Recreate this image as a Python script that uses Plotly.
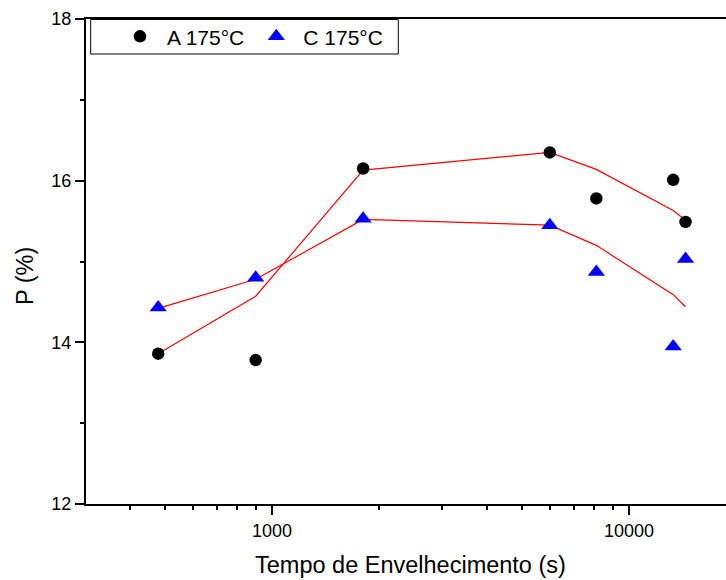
import plotly.graph_objects as go

# ---- data ----
tempo = [480, 900, 1800, 6000, 8100, 13300, 14400]
a_175 = [13.86, 13.78, 16.15, 16.35, 15.78, 16.01, 15.49]
c_175 = [14.43, 14.80, 15.53, 15.45, 14.87, 13.95, 15.03]
a_fit = [13.86, 14.57, 16.13, 16.35, 16.14, 15.63, 15.51]
c_fit = [14.42, 14.78, 15.52, 15.45, 15.20, 14.59, 14.44]

x_tickvals = [1000, 10000]
x_ticktext = ["1000", "10000"]
x_minor = [300, 400, 500, 600, 700, 800, 900, 2000, 3000, 4000, 5000, 6000, 7000, 8000, 9000]
y_tickvals = [12, 14, 16, 18]

FONT = "Arial, Liberation Sans, sans-serif"

# plot-area geometry (px)
L, R, T, B = 86, 726, 19, 504
W, H = R - L, B - T

def px_x(p):
    return (p - L) / W

def px_y(p):
    return (B - p) / H

fig = go.Figure()
fig.add_trace(go.Scatter(x=tempo, y=a_fit, mode="lines", line=dict(color="#ff0000", width=1.2),
                         showlegend=False, hoverinfo="skip"))
fig.add_trace(go.Scatter(x=tempo, y=c_fit, mode="lines", line=dict(color="#ff0000", width=1.2),
                         showlegend=False, hoverinfo="skip"))
fig.add_trace(go.Scatter(x=tempo, y=a_175, mode="markers", name="A 175°C",
                         marker=dict(symbol="circle", size=12.5, color="black")))
fig.add_trace(go.Scatter(x=tempo, y=c_175, mode="markers", name="C 175°C",
                         marker=dict(symbol="triangle-up", size=15, color="#0000ff")))

xr0 = 2.479
xr1 = xr0 + W / 357.0

fig.update_layout(
    width=726, height=580,
    margin=dict(l=L, r=726 - R, t=T, b=580 - B, pad=0),
    paper_bgcolor="white", plot_bgcolor="white",
    font=dict(family=FONT, color="black", size=18),
    showlegend=True,
    legend=dict(orientation="h", x=px_x(113), xanchor="left", y=px_y(36.7), yanchor="middle",
                font=dict(family=FONT, size=21, color="black"), bgcolor="rgba(0,0,0,0)",
                borderwidth=0, itemwidth=44, tracegroupgap=0),
    xaxis=dict(type="log", range=[xr0, xr1], showline=True, linecolor="black", linewidth=2,
               mirror=True, showgrid=False, zeroline=False,
               tickmode="array", tickvals=x_tickvals, ticktext=x_ticktext,
               ticks="outside", ticklen=9, tickwidth=2, tickcolor="black",
               tickfont=dict(family=FONT, size=18),
               minor=dict(tickmode="array", tickvals=x_minor, ticks="outside", ticklen=4,
                          tickwidth=2, tickcolor="black", showgrid=False)),
    yaxis=dict(range=[12, 18], showline=True, linecolor="black", linewidth=2, mirror=False,
               showgrid=False, zeroline=False,
               tickmode="array", tickvals=y_tickvals,
               ticks="outside", ticklen=9, tickwidth=2, tickcolor="black",
               tickfont=dict(family=FONT, size=18),
               minor=dict(dtick=1, ticks="outside", ticklen=4, tickwidth=2, tickcolor="black",
                          showgrid=False)),
    shapes=[dict(type="rect", xref="paper", yref="paper",
                 x0=px_x(90.7), x1=px_x(398.3), y0=px_y(54), y1=px_y(19.5),
                 line=dict(color="black", width=1), fillcolor="rgba(0,0,0,0)", layer="above")],
    annotations=[
        dict(text="Tempo de Envelhecimento (s)", xref="paper", yref="paper",
             x=px_x(410), y=px_y(565), xanchor="center", yanchor="middle", showarrow=False,
             font=dict(family=FONT, size=23.5, color="black")),
        dict(text="P (%)", xref="paper", yref="paper", textangle=-90,
             x=px_x(25), y=px_y(276), xanchor="center", yanchor="middle", showarrow=False,
             font=dict(family=FONT, size=23.5, color="black")),
    ],
)

fig.write_html("out.html")
